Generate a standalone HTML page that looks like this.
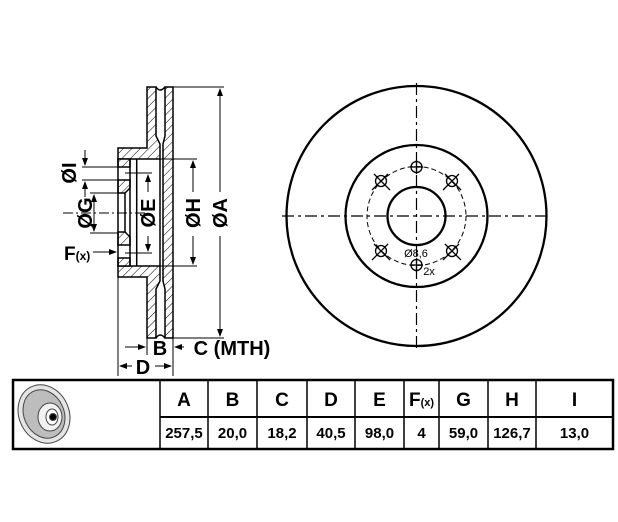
<!DOCTYPE html>
<html><head><meta charset="utf-8"><style>
html,body{margin:0;padding:0;background:#fff;}
svg{display:block;font-family:"Liberation Sans",Arial,sans-serif;font-weight:bold;}
</style></head><body>
<svg width="618" height="522" viewBox="0 0 618 522" xmlns="http://www.w3.org/2000/svg">
<defs>
<pattern id="h" patternUnits="userSpaceOnUse" width="6" height="6" patternTransform="rotate(45)">
<rect width="6" height="6" fill="#fff"/><line x1="0" y1="0" x2="0" y2="6" stroke="#000" stroke-width="1"/>
</pattern>
<marker id="ar" markerWidth="8" markerHeight="8" refX="7" refY="4" orient="auto" markerUnits="userSpaceOnUse">
<path d="M0,1 L8,4 L0,7 Z" fill="#000"/></marker>
</defs>

<g stroke="#000" stroke-width="1.5" fill="url(#h)">
<path d="M118,148 L147,148 L147,87 L156,87 L156,136 L160,144 L160,159 L118,159 Z"/>
<path d="M118,277 L147,277 L147,338 L156,338 L156,289 L160,281 L160,266 L118,266 Z"/>
<path d="M165,87 L173,87 L173,338 L165,338 L165,289 L163,281 L163,144 L165,136 Z"/>
<rect x="118" y="159" width="12" height="8"/>
<path d="M118,180 L130,180 L130,188 L125,193 L118,193 Z"/>
<path d="M118,232 L125,232 L130,237 L130,245 L118,245 Z"/>
<rect x="118" y="258" width="12" height="8"/>
</g>
<g stroke="#000" stroke-width="1.5" fill="none">
<path d="M156,87 Q160,93 165,87"/>
<path d="M156,338 Q160,332 165,338"/>
<line x1="118" y1="159" x2="118" y2="266"/>
<line x1="130" y1="159" x2="130" y2="266"/>
<line x1="136.7" y1="159" x2="136.7" y2="266"/>
<line x1="160" y1="159" x2="160" y2="266"/>
<line x1="125" y1="193" x2="125" y2="232"/>
</g>
<g stroke="#000" stroke-width="1" fill="none">
<line x1="173" y1="87" x2="224" y2="87"/>
<line x1="173" y1="338" x2="224" y2="338"/>
<line x1="160" y1="159" x2="197" y2="159"/>
<line x1="160" y1="266" x2="197" y2="266"/>
<line x1="125" y1="173" x2="152" y2="173"/>
<line x1="125" y1="253" x2="152" y2="253"/>
<line x1="90" y1="193" x2="118" y2="193"/>
<line x1="90" y1="233" x2="118" y2="233"/>
<line x1="82" y1="167" x2="120" y2="167"/>
<line x1="82" y1="180" x2="120" y2="180"/>
<line x1="118" y1="277" x2="118" y2="376"/>
<line x1="173" y1="338" x2="173" y2="376"/>
<line x1="147" y1="338" x2="147" y2="355"/>
<line x1="63" y1="213" x2="146" y2="213" stroke-dasharray="10,3,2,3"/>
<line x1="220" y1="192" x2="220" y2="89" marker-end="url(#ar)"/>
<line x1="220" y1="236" x2="220" y2="336" marker-end="url(#ar)"/>
<line x1="193" y1="192" x2="193" y2="161" marker-end="url(#ar)"/>
<line x1="193" y1="236" x2="193" y2="264" marker-end="url(#ar)"/>
<line x1="148" y1="192" x2="148" y2="175" marker-end="url(#ar)"/>
<line x1="148" y1="236" x2="148" y2="251" marker-end="url(#ar)"/>
<line x1="94" y1="213" x2="94" y2="195" marker-end="url(#ar)"/>
<line x1="94" y1="213" x2="94" y2="231" marker-end="url(#ar)"/>
<line x1="85" y1="150" x2="85" y2="165" marker-end="url(#ar)"/>
<line x1="85" y1="197" x2="85" y2="182" marker-end="url(#ar)"/>
<line x1="93" y1="252" x2="116" y2="252" marker-end="url(#ar)"/>
<line x1="125" y1="347" x2="145" y2="347" marker-end="url(#ar)"/>
<line x1="184" y1="347" x2="175" y2="347" marker-end="url(#ar)"/>
<line x1="132" y1="366" x2="120" y2="366" marker-end="url(#ar)"/>
<line x1="155" y1="366" x2="171" y2="366" marker-end="url(#ar)"/>
</g>
<g font-size="20" fill="#000" text-anchor="middle">
<text transform="translate(227,213) rotate(-90)">ØA</text>
<text transform="translate(200,213) rotate(-90)">ØH</text>
<text transform="translate(155,213) rotate(-90)">ØE</text>
<text transform="translate(92,213) rotate(-90)">ØG</text>
<text transform="translate(76,173) rotate(-90)">ØI</text>
<text x="160" y="355">B</text>
<text x="143" y="374">D</text>
<text x="232" y="355">C (MTH)</text>
<text x="64" y="260" font-size="19" text-anchor="start">F<tspan font-size="12">(x)</tspan></text>
</g>

<g stroke="#000" fill="none">
<circle cx="416.5" cy="216" r="130" stroke-width="2.3"/>
<circle cx="416.5" cy="216" r="71" stroke-width="2.3"/>
<circle cx="416.5" cy="216" r="29" stroke-width="2.3"/>
<circle cx="416.5" cy="216" r="49.5" stroke-width="1" stroke-dasharray="5,3"/>
<line x1="282" y1="216" x2="551" y2="216" stroke-width="1.2" stroke-dasharray="12,4,3,4"/>
<line x1="416.5" y1="83" x2="416.5" y2="349" stroke-width="1.2" stroke-dasharray="12,4,3,4"/>
<g stroke-width="1.3">
<circle cx="416.5" cy="167" r="5.5"/><line x1="410" y1="167" x2="423" y2="167"/><line x1="416.5" y1="160" x2="416.5" y2="174"/>
<circle cx="416.5" cy="265" r="5.5"/><line x1="410" y1="265" x2="423" y2="265"/><line x1="416.5" y1="258" x2="416.5" y2="272"/>
<circle cx="381" cy="181" r="5.5"/><line x1="374" y1="174" x2="390" y2="190"/><line x1="388" y1="174" x2="372" y2="190"/>
<circle cx="452" cy="181" r="5.5"/><line x1="445" y1="174" x2="461" y2="190"/><line x1="459" y1="174" x2="443" y2="190"/>
<circle cx="381" cy="251" r="5.5"/><line x1="374" y1="244" x2="390" y2="260"/><line x1="388" y1="244" x2="372" y2="260"/>
<circle cx="452" cy="251" r="5.5"/><line x1="445" y1="244" x2="461" y2="260"/><line x1="459" y1="244" x2="443" y2="260"/>
</g>
</g>
<text x="416" y="257" font-size="11" font-weight="normal" text-anchor="middle" fill="#000">Ø8,6</text>
<text x="429" y="275" font-size="11" font-weight="normal" text-anchor="middle" fill="#000">2x</text>

<g stroke="#000" fill="none">
<rect x="13" y="380" width="600" height="69" stroke-width="2.5"/>
<line x1="160" y1="417" x2="613" y2="417" stroke-width="2"/>
<g stroke-width="1.5">
<line x1="160" y1="380" x2="160" y2="449"/><line x1="208" y1="380" x2="208" y2="449"/>
<line x1="257" y1="380" x2="257" y2="449"/><line x1="307" y1="380" x2="307" y2="449"/>
<line x1="355" y1="380" x2="355" y2="449"/><line x1="404" y1="380" x2="404" y2="449"/>
<line x1="439" y1="380" x2="439" y2="449"/><line x1="488" y1="380" x2="488" y2="449"/>
<line x1="536" y1="380" x2="536" y2="449"/>
</g>
</g>
<g stroke="#444" stroke-width="1">
<ellipse cx="44" cy="414" rx="25" ry="30" fill="#e4e4e4" transform="rotate(-25 44 414)"/>
<ellipse cx="44" cy="414" rx="20" ry="25" fill="#bdbdbd" transform="rotate(-25 44 414)"/>
<ellipse cx="50" cy="417" rx="12" ry="14" fill="#f2f2f2"/>
<ellipse cx="52" cy="417" rx="6" ry="8" fill="#fff"/>
<circle cx="53" cy="417" r="3.5" fill="#000"/>
</g>
<g font-size="19" fill="#000" text-anchor="middle">
<text x="184" y="406">A</text><text x="232.5" y="406">B</text><text x="282" y="406">C</text>
<text x="331" y="406">D</text><text x="379.5" y="406">E</text>
<text x="421.5" y="406">F<tspan font-size="11">(x)</tspan></text>
<text x="463.5" y="406">G</text><text x="512" y="406">H</text><text x="574.5" y="406">I</text>
</g>
<g font-size="15" fill="#000" text-anchor="middle">
<text x="184" y="438">257,5</text><text x="232.5" y="438">20,0</text><text x="282" y="438">18,2</text>
<text x="331" y="438">40,5</text><text x="379.5" y="438">98,0</text><text x="421.5" y="438">4</text>
<text x="463.5" y="438">59,0</text><text x="512" y="438">126,7</text><text x="574.5" y="438">13,0</text>
</g>
</svg>
</body></html>
